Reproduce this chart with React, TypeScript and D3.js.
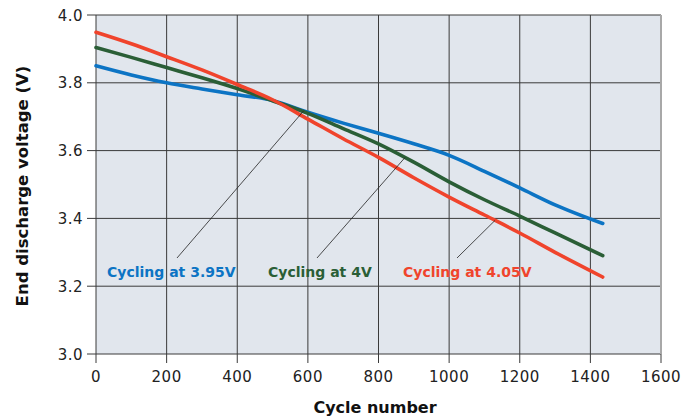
import React from 'react'
import * as d3 from 'd3'

// cycle numbers sampled along each curve
const cycles = [0, 100, 200, 300, 400, 500, 600, 700, 800, 900, 1000, 1100, 1200, 1300, 1435]

const v395 = [3.850, 3.823, 3.800, 3.782, 3.765, 3.748, 3.713, 3.681, 3.651, 3.620, 3.586, 3.539, 3.490, 3.440, 3.385]
const v400 = [3.904, 3.875, 3.845, 3.815, 3.783, 3.747, 3.710, 3.665, 3.620, 3.566, 3.508, 3.455, 3.407, 3.357, 3.290]
const v405 = [3.949, 3.915, 3.877, 3.838, 3.795, 3.750, 3.693, 3.635, 3.580, 3.520, 3.463, 3.410, 3.357, 3.300, 3.227]

const xTicks = [0, 200, 400, 600, 800, 1000, 1200, 1400, 1600]
const yTicks = [3.0, 3.2, 3.4, 3.6, 3.8, 4.0]

// label text, colour, values, cycle where the leader hits the curve
const series = [
  { name: 'Cycling at 3.95V', color: '#0c74c4', values: v395, hit: 588, lx: 107, sx: 177 },
  { name: 'Cycling at 4V', color: '#2a5e36', values: v400, hit: 875, lx: 268, sx: 317 },
  { name: 'Cycling at 4.05V', color: '#f0442c', values: v405, hit: 1130, lx: 403, sx: 457 },
]

const W = 697
const H = 416
const left = 96
const right = 661
const top = 15
const bottom = 354

export default function App() {
  const x = d3.scaleLinear().domain([0, 1600]).range([left, right])
  const y = d3.scaleLinear().domain([3.0, 4.0]).range([bottom, top])

  const line = d3.line<number>()
    .x((d, i) => x(cycles[i]))
    .y(d => y(d))
    .curve(d3.curveMonotoneX)

  const font = "'DejaVu Sans', sans-serif"

  // where a leader line ends on its curve
  const at = (vals: number[], c: number) => d3.scaleLinear().domain(cycles).range(vals)(c)

  return (
    <svg width={W} height={H} style={{ position: 'absolute', left: 0, top: 0 }}>
      <rect x={left} y={top} width={right - left} height={bottom - top} fill="#e1e6ed" />

      {xTicks.map(t => (
        <line key={'vx' + t} x1={x(t)} x2={x(t)} y1={top} y2={bottom + 9}
          stroke="#3a3a3a" strokeWidth={1} />
      ))}
      {yTicks.map(t => (
        <line key={'hy' + t} x1={left - 9} x2={right} y1={y(t)} y2={y(t)} stroke="#3a3a3a" strokeWidth={1} />
      ))}
      <line x1={right} x2={right} y1={top} y2={bottom} stroke="#a8a8a8" strokeWidth={2} />

      {xTicks.map(t => (
        <text key={'lx' + t} x={x(t)} y={382} textAnchor="middle" fontFamily={font}
          fontSize={15} fill="#222" letterSpacing={0.5}>{t}</text>
      ))}
      {yTicks.map(t => (
        <text key={'ly' + t} x={83} y={y(t) + 5.5} textAnchor="end" fontFamily={font}
          fontSize={15} fill="#222" letterSpacing={0.5}>{t.toFixed(1)}</text>
      ))}

      {series.map(s => (
        <path key={s.name} d={line(s.values) || ''} fill="none" stroke={s.color}
          strokeWidth={3.6} strokeLinecap="round" />
      ))}

      {series.map(s => (
        <g key={'a' + s.name}>
          <line x1={s.sx} y1={258} x2={x(s.hit)} y2={y(at(s.values, s.hit))} stroke="#222" strokeWidth={0.8} />
          <text x={s.lx} y={277} fontFamily={font} fontSize={14} fill={s.color}
            fontWeight="bold">{s.name}</text>
        </g>
      ))}

      <text transform={`translate(28,186) rotate(-90)`} textAnchor="middle" fontFamily={font}
        fontWeight="bold" fontSize={16.5} fill="#111">End discharge voltage (V)</text>
      <text x={375} y={413} textAnchor="middle" fontFamily={font} fontWeight="bold"
        fontSize={16} fill="#111">Cycle number</text>
    </svg>
  )
}
